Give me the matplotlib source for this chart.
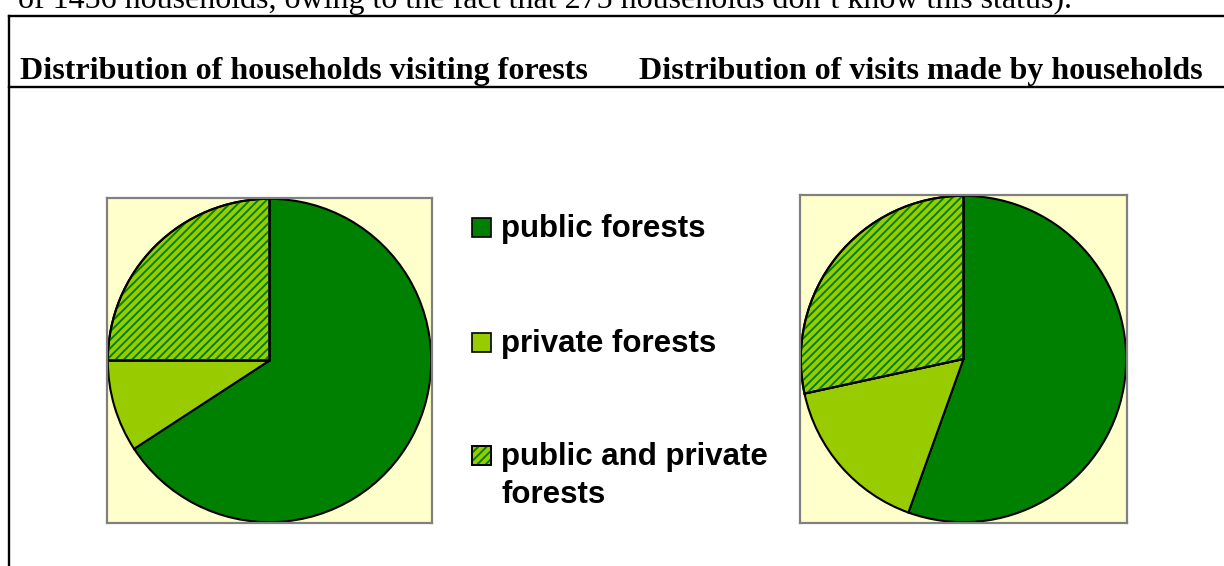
import matplotlib
matplotlib.use("Agg")
import matplotlib.pyplot as plt
from matplotlib.patches import Rectangle, Wedge
from matplotlib.lines import Line2D

# data (percent of households / visits)
categories = ["public forests", "private forests", "public and private\nforests"]
households_share = [65.8, 9.2, 25.0]
visits_share = [55.5, 16.1, 28.4]

titles = [
  "Distribution of households visiting forests",
  "Distribution of visits made by households",
]
intro_text = "of 1456 households, owing to the fact that 275 households don\u2019t know this status)."

dark_green = "#008000"
light_green = "#99CC00"
box_color = "#FFFFCC"

W, H = 1224, 566
fig = plt.figure(figsize=(W / 100, H / 100), dpi=100)


# pixel coords (origin top-left) -> figure fraction
def fx(x):
  return x / W


def fy(y):
  return 1 - y / H


def axes_box(x0, y0, x1, y1):
  return [fx(x0), fy(y1), fx(x1) - fx(x0), fy(y0) - fy(y1)]


plt.rcParams["hatch.linewidth"] = 1.4

# text above the table (cut off at the top, as in the page screenshot)
fig.text(fx(18), fy(8), intro_text, family="Liberation Serif", fontsize=23,
         va="baseline", ha="left")

# table lines
for y in (16, 87):
  fig.add_artist(Line2D([fx(9), 1.0], [fy(y), fy(y)], color="black", lw=1.7))
fig.add_artist(Line2D([fx(9), fx(9)], [fy(16), 0.0], color="black", lw=1.7))

# column headers
for x, t in zip((20, 639), titles):
  fig.text(fx(x), fy(79), t, family="Liberation Serif", weight="bold",
           fontsize=23, va="baseline", ha="left")


def draw_pie(box, values):
  ax = fig.add_axes(axes_box(*box))
  wedges, _ = ax.pie(
    values,
    colors=[dark_green, light_green, light_green],
    startangle=90,
    counterclock=False,
    radius=1.0,
    wedgeprops=dict(edgecolor="black", linewidth=1.5),
  )
  # hatched slice: dark green stripes over light green
  w = wedges[2]
  ax.add_patch(Wedge(w.center, w.r, w.theta1, w.theta2, facecolor="none",
                     edgecolor=dark_green, hatch="////", linewidth=0, zorder=w.get_zorder() + 0.1))
  ax.add_patch(Wedge(w.center, w.r, w.theta1, w.theta2, facecolor="none",
                     edgecolor="black", linewidth=1.5, zorder=w.get_zorder() + 0.2))
  ax.set_xlim(-1.005, 1.005)
  ax.set_ylim(-1.005, 1.005)
  ax.set_aspect("auto")
  ax.set_frame_on(True)
  ax.set_facecolor(box_color)
  ax.set_xticks([])
  ax.set_yticks([])
  for s in ax.spines.values():
    s.set_visible(True)
    s.set_color("#808080")
    s.set_linewidth(1.6)
  return ax


draw_pie((107, 198, 432, 523), households_share)
draw_pie((800, 195, 1127, 523), visits_share)

# legend between the two pies
legend_baselines = [237, 352, 465]
legend_faces = [dark_green, light_green, light_green]
legend_hatch = [None, None, "////"]
line_step = 38
for base, face, hatch, label in zip(legend_baselines, legend_faces, legend_hatch, categories):
  rect = (fx(472), fy(base)), fx(491) - fx(472), fy(base - 19) - fy(base)
  fig.add_artist(Rectangle(*rect, transform=fig.transFigure, facecolor=face,
                           edgecolor="black", lw=1.2))
  if hatch:
    fig.add_artist(Rectangle(*rect, transform=fig.transFigure, facecolor="none",
                             edgecolor=dark_green, hatch=hatch, lw=0))
    fig.add_artist(Rectangle(*rect, transform=fig.transFigure, facecolor="none",
                             edgecolor="black", lw=1.2))
  for i, part in enumerate(label.split("\n")):
    fig.text(fx(501), fy(base + i * line_step), part, family="Liberation Sans",
             weight="bold", fontsize=22.5, va="baseline", ha="left")

fig.savefig("out.png", dpi=100)
